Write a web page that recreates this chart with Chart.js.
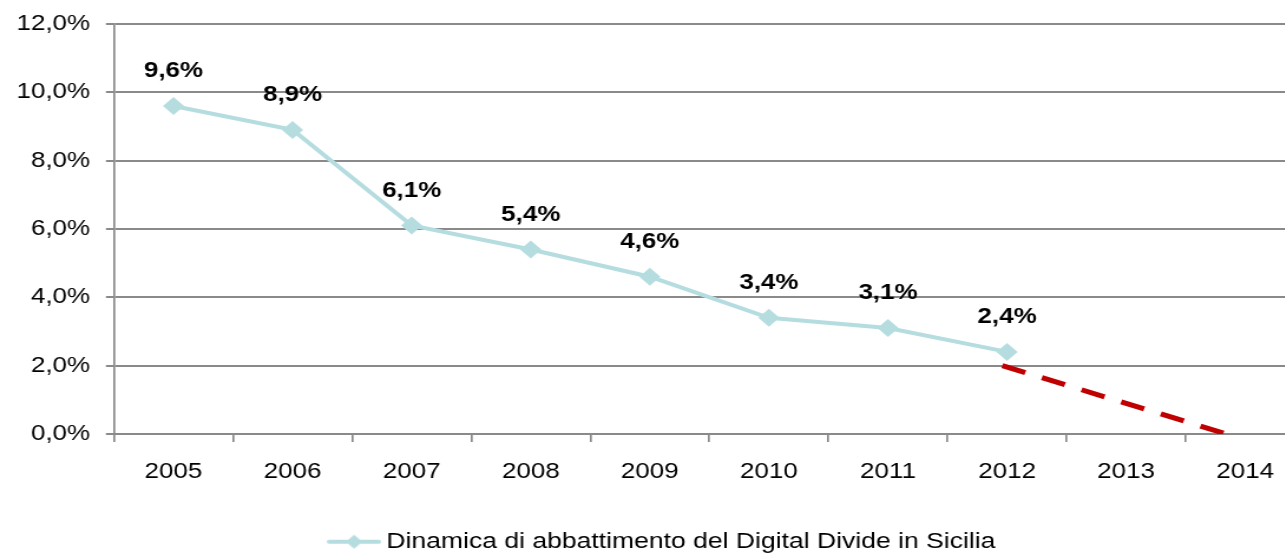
<!DOCTYPE html>
<html>
<head>
<meta charset="utf-8">
<script src="https://cdn.jsdelivr.net/npm/chart.js@4.4.1/dist/chart.umd.min.js"></script>
<style>
  html, body { margin: 0; padding: 0; background: #fff; overflow: hidden; }
</style>
</head>
<body>
<!-- drawn at 1124 px and stretched to 1326 px, like the wide original -->
<canvas id="myChart" width="1124" height="553" style="width:1326px;height:553px;display:block"></canvas>
<script>
const years = ['2005', '2006', '2007', '2008', '2009', '2010', '2011', '2012', '2013', '2014'];
const divide = [9.6, 8.9, 6.1, 5.4, 4.6, 3.4, 3.1, 2.4, null, null];
// trend line, x in category index units (2005 = 0)
const trendX = [6.96, 8.84];
const trendY = [2.0, 0.0];
const seriesName = 'Dinamica di abbattimento del Digital Divide in Sicilia';

const lineColor = '#b5dde0';
const gridColor = '#8a8a8a';
const fmt = v => v.toFixed(1).replace('.', ',') + '%';

// legend icon: short line with a diamond in the middle
const legendIcon = document.createElement('canvas');
legendIcon.width = 46;
legendIcon.height = 20;
(function () {
  const c = legendIcon.getContext('2d');
  c.strokeStyle = lineColor;
  c.lineWidth = 4;
  c.lineCap = 'round';
  c.beginPath(); c.moveTo(2, 10); c.lineTo(44, 10); c.stroke();
  c.fillStyle = lineColor;
  c.beginPath(); c.moveTo(23, 3); c.lineTo(30, 10); c.lineTo(23, 17); c.lineTo(16, 10); c.closePath(); c.fill();
})();

const valueLabels = {
  id: 'valueLabels',
  afterDatasetsDraw(chart) {
    const ctx = chart.ctx;
    const meta = chart.getDatasetMeta(0);
    ctx.save();
    ctx.font = 'bold 22px "Liberation Sans", Arial, sans-serif';
    ctx.fillStyle = '#000';
    ctx.textAlign = 'center';
    ctx.textBaseline = 'middle';
    meta.data.forEach((pt, i) => {
      if (divide[i] == null) return;
      ctx.fillText(fmt(divide[i]), pt.x, pt.y - 35);
    });
    ctx.restore();
  }
};

// the legend reserves 10px below itself; move it down into that space
const legendShift = {
  id: 'legendShift',
  afterLayout(chart) {
    const lg = chart.legend;
    lg.top += 10;
    lg.bottom += 10;
    lg.left += 11;
    lg.right += 11;
  }
};

Chart.defaults.font.family = '"Liberation Sans", Arial, sans-serif';
Chart.defaults.font.size = 22;
Chart.defaults.color = '#000';

new Chart(document.getElementById('myChart'), {
  type: 'line',
  data: {
    labels: years,
    datasets: [{
      label: seriesName,
      data: divide,
      borderColor: lineColor,
      backgroundColor: lineColor,
      borderWidth: 4,
      tension: 0,
      pointStyle: 'rectRot',
      pointRadius: 9,
      pointHoverRadius: 9,
      pointBorderWidth: 0,
      xAxisID: 'x'
    }, {
      label: 'trend',
      data: trendX.map((x, i) => ({ x: x, y: trendY[i] })),
      borderColor: '#c00000',
      borderWidth: 5,
      borderDash: [20.7, 15],
      borderCapStyle: 'butt',
      pointRadius: 0,
      xAxisID: 'xTrend'
    }]
  },
  options: {
    responsive: false,
    animation: false,
    layout: { padding: { left: 0, right: 18, top: 24, bottom: 0 } },
    scales: {
      x: {
        offset: true,
        grid: { offset: true, drawOnChartArea: false, drawTicks: true, tickLength: 8, color: gridColor, lineWidth: 1.7 },
        border: { color: gridColor, width: 2 },
        ticks: { autoSkip: false, maxRotation: 0, padding: 17, color: '#000' },
        afterFit: s => { s.height = 86.6; }
      },
      xTrend: {
        type: 'linear',
        display: false,
        min: -0.5,
        max: 9.5
      },
      y: {
        min: 0,
        max: 12,
        grid: { color: gridColor, lineWidth: 2, tickLength: 6.8 },
        border: { color: gridColor, width: 1.7 },
        ticks: { stepSize: 2, padding: 13.5, color: '#000', callback: v => fmt(v) },
        afterFit: s => { s.width = 96.6; s.paddingTop = 0; s.paddingBottom = 0; }
      }
    },
    plugins: {
      legend: {
        position: 'bottom',
        labels: {
          usePointStyle: true,
          pointStyleWidth: 32,
          color: '#000',
          padding: 0,
          font: { size: 22.5 },
          generateLabels: chart => Chart.defaults.plugins.legend.labels.generateLabels(chart)
            .filter(l => l.datasetIndex === 0)
            .map(l => Object.assign(l, { pointStyle: legendIcon }))
        }
      },
      tooltip: { enabled: false }
    }
  },
  plugins: [valueLabels, legendShift]
});
</script>
</body>
</html>
